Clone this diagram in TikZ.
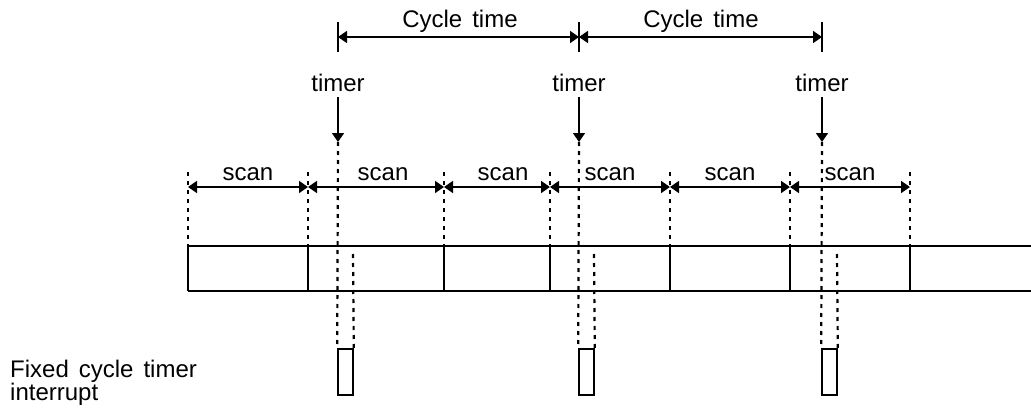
\documentclass[tikz,border=0pt]{standalone}
\usepackage{fontspec}
\setmainfont{Liberation Sans}[WordSpace=1.5]
\usepackage{tikz}
\usetikzlibrary{
  calc,
  positioning,
  arrows.meta
}

\begin{document}
\begin{tikzpicture}[x=1pt,y=-1pt,> ={Triangle[length=9pt,width=12pt]}]
  \tikzset{
    lbl/.style={font=\fontsize{24}{23}\selectfont,inner sep=0pt,anchor=base},
    solidline/.style={line width=1.6pt},
    dotline/.style={line width=2.2pt,dash pattern=on 4pt off 5pt},
    irqbox/.style={draw,line width=1.6pt,inner sep=0pt,
      minimum width=15pt,minimum height=46pt},
  }
  \useasboundingbox (0,0) rectangle (1031,412);

  % scan boundaries
  \foreach \i/\x in {0/188,1/308,2/444,3/550,4/670,5/790,6/910} {
    \coordinate (gd\i) at (\x,172);
    \coordinate (ar\i) at (\x,187);
    \coordinate (top\i) at (\x,246);
    \coordinate (bot\i) at (\x,291);
  }
  \coordinate (topE) at (1031,246);
  \coordinate (botE) at (1031,291);

  % the scan bar
  \draw[solidline] (top0) -- (topE);
  \draw[solidline] (bot0) -- (botE);
  \foreach \i in {0,...,6} {
    \draw[solidline] (top\i) -- (bot\i);
    \draw[dotline] (gd\i) -- (top\i);
  }
  \foreach \i/\j in {0/1,1/2,2/3,3/4,4/5,5/6} {
    \draw[solidline,<->] (ar\i) -- (ar\j);
  }
  \node[lbl] (scan1) at (248,180) {scan};
  \node[lbl] (scan2) at (383,180) {scan};
  \node[lbl] (scan3) at (503,180) {scan};
  \node[lbl] (scan4) at (610,180) {scan};
  \node[lbl] (scan5) at (730,180) {scan};
  \node[lbl] (scan6) at (850,180) {scan};

  % timers
  \foreach \k/\x in {1/338,2/579,3/822} {
    \coordinate (ct\k a) at (\x,22);
    \coordinate (ct\k b) at (\x,52);
    \coordinate (cy\k) at (\x,37);
    \coordinate (tp\k) at (\x,142);
    \coordinate (in\k) at (\x+15,254);
    \node[lbl] (tl\k) at (\x,92) {timer};
    \node[irqbox] (irq\k) at (\x+7.5,372) {};
    \draw[solidline] (ct\k a) -- (ct\k b);
    \draw[solidline,->] ([yshift=-5pt]tl\k.south) -- (tp\k);
    \draw[dotline] (tp\k) -- (irq\k.north west);
    \draw[dotline] (in\k) -- (irq\k.north east);
  }

  % cycle time
  \draw[solidline,<->] (cy1) -- (cy2);
  \draw[solidline,<->] (cy2) -- (cy3);
  \node[lbl] (cyc1) at (460,28) {Cycle time};
  \node[lbl] (cyc2) at (701,28) {Cycle time};

  \node[lbl,anchor=base west,align=left] (fixlbl) at (10,400)
    {Fixed cycle timer\\interrupt};
\end{tikzpicture}
\end{document}
